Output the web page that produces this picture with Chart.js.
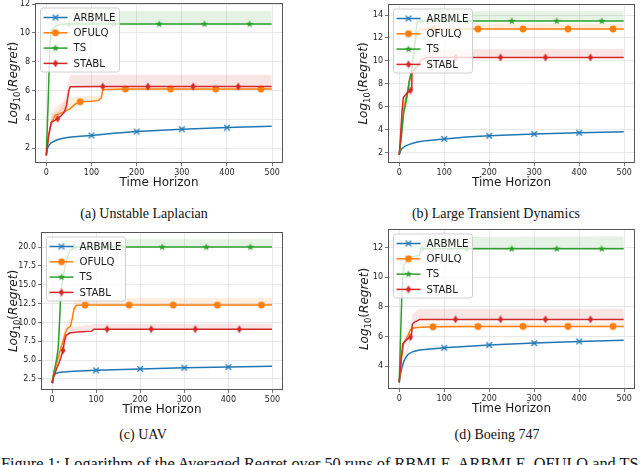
<!DOCTYPE html>
<html>
<head>
<meta charset="utf-8">
<script src="https://cdn.jsdelivr.net/npm/chart.js@4.4.0/dist/chart.umd.min.js"></script>
<style>
  body { margin: 0; width: 640px; height: 465px; overflow: hidden; background: #fff; position: relative; }
  canvas { position: absolute; }
  .cap { position: absolute; font-family: "Liberation Serif", serif; font-size: 14px; color: #111;
         white-space: nowrap; transform: translate(-50%, -50%); }
  .fig { position: absolute; left: 1px; top: 455px; font-family: "Liberation Serif", serif; font-size: 16.3px;
         line-height: 17px; color: #111; white-space: nowrap; }
</style>
</head>
<body>
<canvas id="chA" width="290" height="200" style="left:0;top:0"></canvas>
<canvas id="chB" width="310" height="200" style="left:330px;top:0"></canvas>
<canvas id="chC" width="290" height="200" style="left:0;top:225px"></canvas>
<canvas id="chD" width="310" height="200" style="left:330px;top:225px"></canvas>
<div class="cap" style="left:144px;top:214px">(a) Unstable Laplacian</div>
<div class="cap" style="left:496px;top:214px">(b) Large Transient Dynamics</div>
<div class="cap" style="left:143px;top:435px">(c) UAV</div>
<div class="cap" style="left:497px;top:435px">(d) Boeing 747</div>
<div class="fig">Figure 1: Logarithm of the Averaged Regret over 50 runs of RBMLE, ARBMLE, OFULQ and TS</div>
<script>
// series names / ticks
const seriesNames = ['ARBMLE', 'OFULQ', 'TS', 'STABL'];
const xTicks = [0, 100, 200, 300, 400, 500];
const a_yTicks = [2, 4, 6, 8, 10, 12];
const b_yTicks = [2, 4, 6, 8, 10, 12, 14];
const c_yTicks = [2.5, 5, 7.5, 10, 12.5, 15, 17.5, 20];
const d_yTicks = [4, 6, 8, 10, 12];

// where the markers sit (markevery)
const markARBMLE = [100, 200, 300, 400];
const markOFULQ = [75, 175, 275, 375, 475];
const markTS = [50, 150, 250, 350, 450];
const markSTABL = [25, 125, 225, 325, 425];

// (a) Unstable Laplacian  [time, log10 regret]
const a_ARBMLE = [[0,1.5],[2,1.9],[5,2.15],[10,2.35],[20,2.53],[30,2.63],[50,2.75],[75,2.83],[100,2.88],[150,3.03],[200,3.15],[300,3.32],[400,3.43],[499,3.52]];
const a_OFULQ = [[0,1.5],[5,2.9],[11,3.7],[20,4.3],[30,4.4],[38,4.5],[53,4.75],[64,5.05],[75,5.22],[100,5.25],[115,5.3],[122,5.5],[125,6.05],[130,6.08],[175,6.1],[275,6.1],[375,6.1],[475,6.1],[499,6.1]];
const a_TS = [[0,1.5],[4,5.0],[8,9.2],[11,10.1],[20,10.45],[31,10.6],[50,10.62],[150,10.62],[250,10.62],[350,10.62],[450,10.62],[499,10.62]];
const a_STABL = [[0,1.5],[5,2.8],[11,3.8],[20,3.95],[25,4.05],[33,4.25],[40,4.5],[45,5.0],[50,6.0],[53,6.27],[125,6.28],[225,6.28],[325,6.28],[425,6.28],[499,6.28]];
// bands [time, low, high]
const a_OFULQ_band = [[0,1.5,1.5],[11,3.7,4.3],[20,4.3,4.9],[38,4.5,5.2],[53,4.75,5.5],[75,5.2,5.6],[120,5.3,5.65],[125,6.05,6.3],[499,6.08,6.3]];
const a_TS_band = [[0,1.5,1.5],[4,4.5,6.0],[8,8.5,10.0],[11,9.8,10.8],[20,10.3,11.3],[31,10.5,11.5],[60,10.55,11.55],[499,10.55,11.55]];
const a_STABL_band = [[0,1.5,1.5],[11,3.8,4.4],[27,4.0,4.6],[40,4.5,5.3],[50,6.0,6.8],[53,6.27,7.1],[499,6.28,7.1]];

// (b) Large Transient Dynamics
const b_ARBMLE = [[0,1.8],[3,2.15],[6,2.35],[12,2.55],[21,2.7],[30,2.82],[43,2.95],[60,3.05],[100,3.2],[150,3.36],[200,3.47],[300,3.63],[400,3.73],[499,3.82]];
const b_OFULQ = [[0,1.8],[5,3.8],[10,5.8],[15,6.8],[20,7.6],[25,8.6],[30,9.8],[35,11.5],[40,12.5],[45,12.7],[60,12.75],[75,12.77],[175,12.78],[275,12.78],[375,12.78],[475,12.78],[499,12.78]];
const b_TS = [[0,1.8],[5,3.5],[10,5.5],[14,6.2],[18,7.0],[22,8.2],[27,9.0],[32,10.5],[37,12.5],[40,13.4],[45,13.47],[50,13.47],[150,13.47],[250,13.47],[350,13.47],[450,13.47],[499,13.47]];
const b_STABL = [[0,1.8],[3,3.5],[6,5.5],[9,6.8],[15,7.1],[20,7.3],[25,7.42],[27,7.5],[28,8.8],[32,9.2],[40,9.5],[50,10.1],[60,10.3],[125,10.3],[225,10.3],[325,10.3],[425,10.3],[499,10.3]];
const b_OFULQ_band = [[0,1.8,1.8],[20,7.6,8.2],[40,12.5,13.1],[60,12.75,13.25],[499,12.78,13.25]];
const b_TS_band = [[0,1.8,1.8],[14,6.2,6.8],[27,9.0,10.0],[40,13.4,14.2],[45,13.47,14.33],[499,13.47,14.33]];
const b_STABL_band = [[0,1.8,1.8],[26,7.45,8.0],[40,9.5,10.3],[60,10.3,11.0],[499,10.3,11.05]];

// (c) UAV
const c_ARBMLE = [[0,2.0],[2,2.6],[4,3.0],[8,3.2],[15,3.35],[25,3.42],[50,3.52],[100,3.65],[200,3.84],[300,3.99],[400,4.09],[499,4.18]];
const c_OFULQ = [[0,2.0],[5,3.5],[10,4.5],[15,5.5],[20,6.6],[25,7.5],[30,8.6],[35,9.2],[42,9.5],[46,10.5],[50,11.8],[55,12.25],[75,12.3],[175,12.3],[275,12.3],[375,12.3],[475,12.3],[499,12.3]];
const c_TS = [[0,2.0],[5,3.5],[10,5.0],[14,6.5],[17,10],[20,14],[25,16],[32,18],[40,19.5],[50,19.97],[150,20.0],[250,20.0],[350,20.0],[450,20.0],[499,20.0]];
const c_STABL = [[0,2.0],[5,3.0],[10,3.8],[15,4.5],[20,5.3],[25,6.3],[28,7.5],[32,8.3],[40,8.6],[60,8.75],[90,8.85],[95,9.1],[125,9.1],[225,9.1],[325,9.1],[425,9.1],[499,9.1]];
const c_OFULQ_band = [[0,2,2],[25,7.5,8.3],[35,9.2,10.2],[42,9.5,10.5],[50,11.8,12.8],[55,12.25,13.2],[499,12.3,13.25]];
const c_TS_band = [[0,2,2],[14,6.5,7.5],[25,16,17.5],[40,19.5,20.7],[50,19.97,21.0],[499,20.0,21.05]];
const c_STABL_band = [[0,2,2],[25,6.3,7.0],[40,8.6,9.3],[95,9.1,9.8],[499,9.1,9.85]];

// (d) Boeing 747
const d_ARBMLE = [[0,2.9],[3,3.5],[6,3.9],[10,4.3],[15,4.6],[20,4.8],[30,4.97],[45,5.08],[70,5.16],[100,5.23],[200,5.42],[300,5.55],[400,5.66],[499,5.74]];
const d_OFULQ = [[0,2.9],[5,4.5],[10,5.6],[15,5.8],[20,6.1],[25,6.45],[30,6.55],[40,6.6],[75,6.65],[175,6.67],[275,6.68],[375,6.68],[475,6.68],[499,6.68]];
const d_TS = [[0,2.9],[3,6.0],[6,9.0],[10,10.8],[20,11.3],[40,11.45],[45,11.5],[48,11.9],[50,11.92],[150,11.92],[250,11.92],[350,11.92],[450,11.92],[499,11.92]];
const d_STABL = [[0,2.9],[4,4.5],[8,5.5],[15,5.75],[22,5.9],[25,5.95],[27,6.0],[29,6.8],[33,6.95],[40,7.05],[45,7.14],[125,7.15],[225,7.15],[325,7.15],[425,7.15],[499,7.15]];
const d_OFULQ_band = [[0,2.9,2.9],[15,5.8,6.2],[25,6.45,6.9],[40,6.6,6.9],[499,6.68,6.95]];
const d_TS_band = [[0,2.9,2.9],[6,9.0,10.0],[20,11.3,11.9],[48,11.9,12.7],[499,11.92,12.77]];
const d_STABL_band = [[0,2.9,2.9],[27,6.0,6.4],[29,6.8,7.5],[45,7.14,7.85],[499,7.15,7.88]];

const colors = ['#1f77b4', '#ff7f0e', '#2ca02c', '#d62728'];
const bandColors = ['rgba(255,127,14,0.13)', 'rgba(44,160,44,0.12)', 'rgba(214,39,40,0.12)'];
const marks = [markARBMLE, markOFULQ, markTS, markSTABL];

// matplotlib-like markers: x, o, *, d
function markerImg(kind, color) {
  const c = document.createElement('canvas');
  c.width = 12; c.height = 12;
  const g = c.getContext('2d');
  g.translate(6, 6);
  g.fillStyle = color; g.strokeStyle = color; g.lineWidth = 1.3;
  g.beginPath();
  if (kind === 'x') {
    g.moveTo(-2.8, -2.8); g.lineTo(2.8, 2.8);
    g.moveTo(2.8, -2.8); g.lineTo(-2.8, 2.8);
    g.stroke();
  } else if (kind === 'o') {
    g.arc(0, 0, 3.4, 0, Math.PI * 2); g.fill();
  } else if (kind === '*') {
    for (let i = 0; i < 10; i++) {
      const r = i % 2 ? 1.6 : 3.9, a = -Math.PI / 2 + i * Math.PI / 5;
      g.lineTo(r * Math.cos(a), r * Math.sin(a));
    }
    g.closePath(); g.fill();
  } else {
    g.moveTo(0, -4); g.lineTo(2.5, 0); g.lineTo(0, 4); g.lineTo(-2.5, 0);
    g.closePath(); g.fill();
  }
  return c;
}
const markerImgs = [markerImg('x', colors[0]), markerImg('o', colors[1]), markerImg('*', colors[2]), markerImg('d', colors[3])];

function drawYLabel(ctx, cx, cy) {
  const parts = [
    ['Log', 'italic 12px "DejaVu Sans"', 0],
    ['10', '8.5px "DejaVu Sans"', 3],
    ['(', '12px "DejaVu Sans"', 0],
    ['Regret', 'italic 12px "DejaVu Sans"', 0],
    [')', '12px "DejaVu Sans"', 0]
  ];
  ctx.save();
  ctx.translate(cx, cy);
  ctx.rotate(-Math.PI / 2);
  ctx.fillStyle = '#1a1a1a';
  ctx.textBaseline = 'alphabetic';
  let total = 0;
  parts.forEach(p => { ctx.font = p[1]; total += ctx.measureText(p[0]).width; });
  let x = -total / 2;
  parts.forEach(p => {
    ctx.font = p[1];
    ctx.fillText(p[0], x, 4.5 + p[2]);
    x += ctx.measureText(p[0]).width;
  });
  ctx.restore();
}

const decor = {
  id: 'decor',
  afterDatasetsDraw(chart) {
    const ctx = chart.ctx, ca = chart.chartArea;
    ctx.save();
    // frame
    ctx.strokeStyle = '#555';
    ctx.lineWidth = 1;
    ctx.strokeRect(Math.round(ca.left) + 0.5, Math.round(ca.top) + 0.5, Math.round(ca.width) - 1, Math.round(ca.height) - 1);
    // legend box
    const bx = ca.left + 5.5, by = ca.top + 5, bw = 79, bh = 64;
    ctx.beginPath();
    ctx.roundRect(bx, by, bw, bh, 2.5);
    ctx.fillStyle = 'rgba(255,255,255,0.8)';
    ctx.fill();
    ctx.strokeStyle = '#d0d0d0';
    ctx.stroke();
    seriesNames.forEach((name, i) => {
      const y = by + 9.5 + i * 15.3;
      ctx.strokeStyle = colors[i];
      ctx.lineWidth = 1.5;
      ctx.beginPath(); ctx.moveTo(bx + 3, y); ctx.lineTo(bx + 27, y); ctx.stroke();
      const m = markerImgs[i];
      ctx.drawImage(m, bx + 15 - m.width / 2, y - m.height / 2);
      ctx.fillStyle = '#1a1a1a';
      ctx.font = '10.2px "DejaVu Sans"';
      ctx.textBaseline = 'middle';
      ctx.fillText(name, bx + 33, y + 0.5);
    });
    ctx.restore();
  },
  afterDraw(chart) {
    const ctx = chart.ctx, ca = chart.chartArea, g = chart.options.plugins.decor;
    ctx.save();
    ctx.fillStyle = '#1a1a1a';
    ctx.font = '12px "DejaVu Sans"';
    ctx.textAlign = 'center';
    ctx.textBaseline = 'middle';
    ctx.fillText('Time Horizon', (ca.left + ca.right) / 2, ca.bottom + 20);
    ctx.restore();
    drawYLabel(ctx, ca.left - g.ylab, (ca.top + ca.bottom) / 2);
  }
};

function makeChart(id, series, bands, yMin, yMax, yTicks, dec, geom) {
  const datasets = [];
  bands.forEach((band, k) => {
    const lo = datasets.length;
    datasets.push({
      data: band.map(p => ({ x: p[0], y: p[1] })),
      borderWidth: 0, pointRadius: 0, fill: false, order: 10
    });
    datasets.push({
      data: band.map(p => ({ x: p[0], y: p[2] })),
      borderWidth: 0, pointRadius: 0, fill: { target: lo }, backgroundColor: bandColors[k], order: 10
    });
  });
  series.forEach((s, i) => {
    datasets.push({
      label: seriesNames[i],
      data: s.map(p => ({ x: p[0], y: p[1] })),
      borderColor: colors[i],
      backgroundColor: colors[i],
      borderWidth: 1.5,
      tension: 0,
      fill: false,
      pointStyle: markerImgs[i],
      pointRadius: c => (c.raw && marks[i].includes(c.raw.x)) ? 3 : 0,
      order: 4 - i
    });
  });

  return new Chart(document.getElementById(id), {
    type: 'line',
    data: { datasets },
    options: {
      responsive: false,
      animation: false,
      events: [],
      layout: { padding: { left: 0, top: geom.top, right: geom.right, bottom: 0 } },
      plugins: { legend: { display: false }, tooltip: { enabled: false }, decor: { ylab: geom.ylab } },
      scales: {
        x: {
          type: 'linear', min: -24.95, max: 523.95, bounds: 'data',
          border: { display: false },
          grid: { color: '#e3e3e3', lineWidth: 0.8, tickColor: '#555', tickLength: 3 },
          ticks: { autoSkip: false, maxRotation: 0, padding: 2, color: '#262626', font: { family: 'DejaVu Sans', size: 8 } },
          afterBuildTicks: s => { s.ticks = xTicks.map(v => ({ value: v })); },
          afterFit: s => { s.height = geom.xh; s.paddingLeft = 0; s.paddingRight = 0; }
        },
        y: {
          type: 'linear', min: yMin, max: yMax, bounds: 'data',
          border: { display: false },
          grid: { color: '#e3e3e3', lineWidth: 0.8, tickColor: '#555', tickLength: 3 },
          ticks: { autoSkip: false, padding: 2, color: '#262626', font: { family: 'DejaVu Sans', size: 8 },
                   callback: v => v.toFixed(dec) },
          afterBuildTicks: s => { s.ticks = yTicks.map(v => ({ value: v })); },
          afterFit: s => { s.width = geom.yw; s.paddingTop = 0; s.paddingBottom = 0; }
        }
      }
    },
    plugins: [decor]
  });
}

makeChart('chA', [a_ARBMLE, a_OFULQ, a_TS, a_STABL], [a_OFULQ_band, a_TS_band, a_STABL_band],
  0.97, 12.08, a_yTicks, 0, { top: 3, right: 7, yw: 35, xh: 37, ylab: 23 });
makeChart('chB', [b_ARBMLE, b_OFULQ, b_TS, b_STABL], [b_OFULQ_band, b_TS_band, b_STABL_band],
  1.1, 14.96, b_yTicks, 0, { top: 4, right: 5, yw: 58, xh: 37, ylab: 26 });
makeChart('chC', [c_ARBMLE, c_OFULQ, c_TS, c_STABL], [c_OFULQ_band, c_TS_band, c_STABL_band],
  1.04, 22.0, c_yTicks, 1, { top: 7, right: 7, yw: 41, xh: 35, ylab: 29 });
makeChart('chD', [d_ARBMLE, d_OFULQ, d_TS, d_STABL], [d_OFULQ_band, d_TS_band, d_STABL_band],
  2.45, 13.26, d_yTicks, 0, { top: 4, right: 5, yw: 58, xh: 36, ylab: 25 });
</script>
</body>
</html>
